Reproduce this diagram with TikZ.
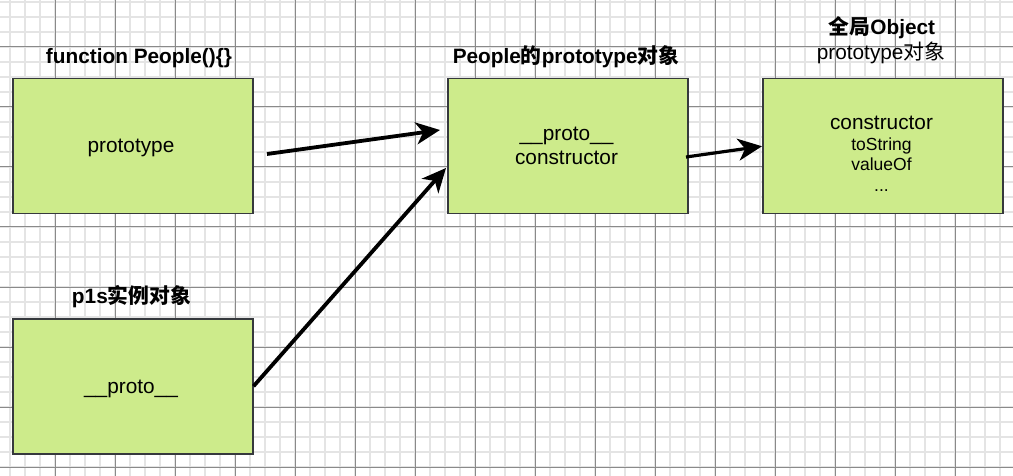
\documentclass[tikz,border=0pt]{standalone}
\usepackage{fontspec}
\setmainfont{Liberation Sans}
\newfontfamily\cjk{Noto Sans CJK SC}
\usetikzlibrary{arrows.meta}
\definecolor{boxfill}{HTML}{CDEB8B}
\definecolor{boxline}{HTML}{36393D}
\definecolor{gridminor}{HTML}{E4E4E4}
\definecolor{gridmajor}{HTML}{8A8A8A}
\begin{document}
\begin{tikzpicture}[x=1pt,y=-1pt,
  objbox/.style={draw=boxline, fill=boxfill, line width=1.5pt, minimum width=240pt, minimum height=135pt, inner sep=0pt, anchor=north west},
  lbl/.style={anchor=base, inner sep=0pt, font=\fontsize{20.8}{25}\selectfont},
  smalllbl/.style={anchor=base, inner sep=0pt, font=\fontsize{17.5}{21}\selectfont},
  ttl/.style={anchor=base, inner sep=0pt, font=\fontsize{20.8}{25}\selectfont\bfseries},
  minorline/.style={draw=gridminor, line width=1.8pt},
  majorline/.style={draw=gridmajor, line width=1pt},
  link/.style={line width=3.8pt, -{Stealth[length=24pt,width=22pt,inset=7pt]}}
]
\fill[white] (0,0) rectangle (1013,476);
\useasboundingbox (0,0) rectangle (1013,476);
% grid
\foreach \x in {10,25,...,1010} \draw[minorline] (\x,0) -- (\x,476);
\foreach \y in {2,17,...,476} \draw[minorline] (0,\y) -- (1013,\y);
\foreach \x in {55,115,...,1010} \draw[majorline] (\x,0) -- (\x,476);
\foreach \y in {47,107,...,476} \draw[majorline] (0,\y) -- (1013,\y);
% boxes
\node[objbox] (func) at (12,78) {};
\node[objbox] (proto) at (447,78) {};
\node[objbox] (glob) at (762,78) {};
\node[objbox] (inst) at (12,318) {};
% titles
\node[ttl] (tfunc) at (139,64) {function People()\{\}};
\node[ttl] (tproto) at (566,64) {People{\cjk\bfseries 的}prototype{\cjk\bfseries 对象}};
\node[ttl] (tglob) at (882,35) {{\cjk\bfseries 全局}Object};
\node[lbl] (tglob2) at (881,60) {prototype{\cjk 对象}};
\node[ttl] (tinst) at (131.5,303) {p1s{\cjk\bfseries 实例对象}};
% box texts
\node[lbl] (lfunc) at (131,153) {prototype};
\node[lbl] (lproto1) at (566.5,141) {\_\_proto\_\_};
\node[lbl] (lproto2) at (566.5,165) {constructor};
\node[lbl] (lglob1) at (881.5,130) {constructor};
\node[smalllbl] (lglob2) at (881.5,151) {toString};
\node[smalllbl] (lglob3) at (881.5,171) {valueOf};
\node[smalllbl] (lglob4) at (881.5,192) {...};
\node[lbl] (linst) at (131,393) {\_\_proto\_\_};
% connectors
\coordinate (a1s) at (267,154);
\coordinate (a1e) at (440,130);
\coordinate (a2e) at (446,168);
\coordinate (a3s) at (686,157);
\draw[link] (a1s) -- (a1e);
\draw[link] (inst.east) -- (a2e);
\draw[link, line width=3.2pt] (a3s) -- (glob.west);
\end{tikzpicture}
\end{document}
